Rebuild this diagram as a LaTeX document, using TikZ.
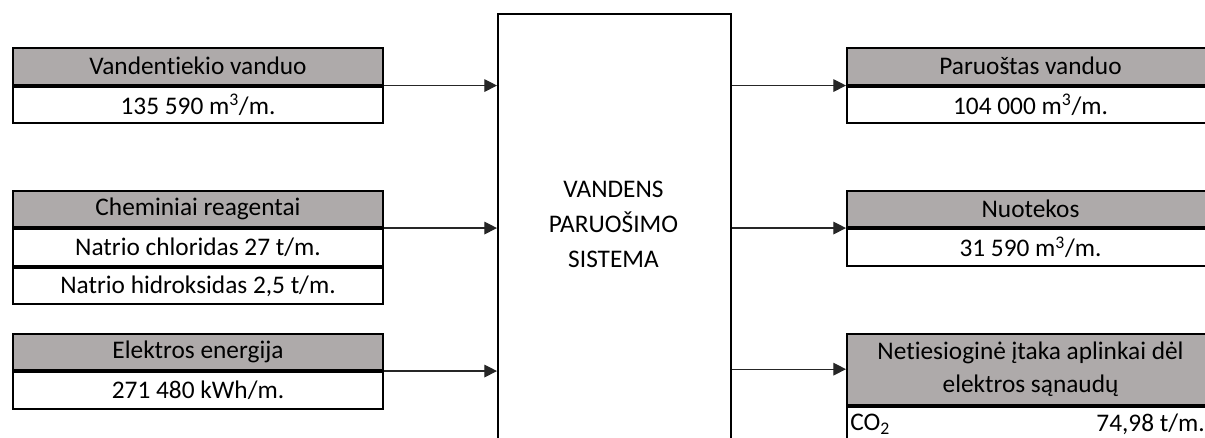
\documentclass[tikz,border=0pt]{standalone}
\usepackage{fontspec}
\setmainfont{Carlito}[Ligatures={NoCommon}]
\usetikzlibrary{arrows.meta}
\definecolor{hdrgray}{HTML}{AEAAAA}
\definecolor{linkgray}{HTML}{262626}
\begin{document}
\begin{tikzpicture}[x=0.75pt,y=-0.75pt,
  cell/.style={draw=black, line width=1.5pt, inner sep=0pt, anchor=north west,
    minimum height=27.4pt, font=\fontsize{19}{24.75}\selectfont, align=center},
  hdr/.style={cell, fill=hdrgray},
  lw/.style={minimum width=277.5pt},
  rw/.style={minimum width=275.25pt},
  flow/.style={draw=linkgray, line width=0.9pt, -{Triangle[length=9.5pt,width=9.5pt]}},
  sysbox/.style={draw=black, line width=1.5pt, anchor=north west, inner sep=0pt,
    minimum width=174.75pt, minimum height=375pt},
  plain/.style={inner sep=0pt, font=\fontsize{19}{26.25}\selectfont}
]
\useasboundingbox (0,0) rectangle (1205,437);
\clip (0,0) rectangle (1205,437);

% central process block
\node[sysbox] (sys) at (497,12.7) {};
\node[plain, align=center] (systxt) at (613.5,224) {VANDENS\\PARUOŠIMO\\SISTEMA};

% inputs
\node[hdr, lw] (inA) at (12,47) {Vandentiekio vanduo};
\node[cell, lw] (inAv) at (inA.south west) {135 590 m\textsuperscript{3}/m.};

\node[hdr, lw] (inB) at (12,189.5) {Cheminiai reagentai};
\node[cell, lw] (inBv) at (inB.south west) {Natrio chloridas 27 t/m.};
\node[cell, lw] (inBw) at (inBv.south west) {Natrio hidroksidas 2,5 t/m.};

\node[hdr, lw] (inC) at (12,332.5) {Elektros energija};
\node[cell, lw] (inCv) at (inC.south west) {271 480 kWh/m.};

% outputs
\node[hdr, rw] (outA) at (846,47) {Paruoštas vanduo};
\node[cell, rw] (outAv) at (outA.south west) {104 000 m\textsuperscript{3}/m.};

\node[hdr, rw] (outB) at (846,189.5) {Nuotekos};
\node[cell, rw] (outBv) at (outB.south west) {31 590 m\textsuperscript{3}/m.};

\node[hdr, rw, minimum height=53.5pt] (outC) at (846,332.5) {Netiesioginė įtaka aplinkai dėl\\elektros sąnaudų};
\node[cell, rw] (outCv) at (outC.south west) {};
\node[plain, anchor=west] (co2) at (850,424) {CO\textsubscript{2}};
\node[plain, anchor=east] (co2val) at (1205,424) {74,98 t/m.};

% flows into the block
\draw[flow] (inA.south east) -- (inA.south east -| sys.west);
\draw[flow] (inB.south east) -- (inB.south east -| sys.west);
\draw[flow] (inC.south east) -- (inC.south east -| sys.west);

% flows out of the block
\draw[flow] (sys.east |- outA.south west) -- (outA.south west);
\draw[flow] (sys.east |- outB.south west) -- (outB.south west);
\draw[flow] (sys.east |- outC.west) -- (outC.west);
\end{tikzpicture}
\end{document}
